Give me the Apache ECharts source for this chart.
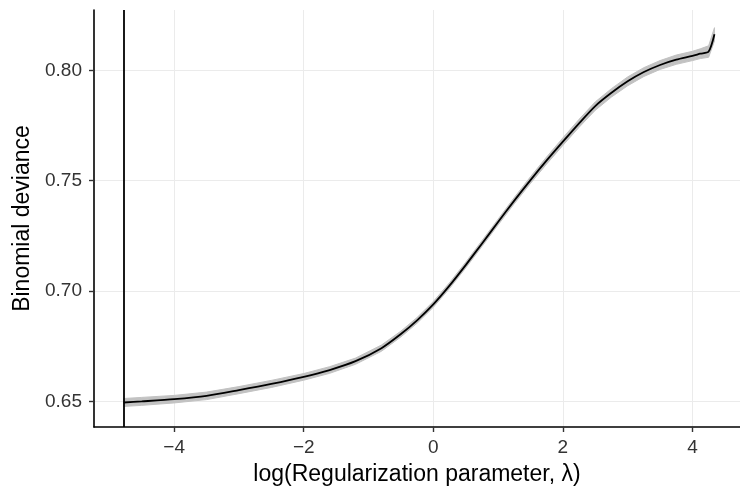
<!DOCTYPE html>
<html>
<head>
<meta charset="utf-8">
<script src="https://cdn.jsdelivr.net/npm/echarts@6/dist/echarts.min.js"></script>
<style>
html,body{margin:0;padding:0;background:#fff;}
#chart{width:740px;height:487px;}
</style>
</head>
<body>
<div id="chart"></div>
<script>
// log(lambda) values along the path
const logLambda = [-4.78, -4.5, -4.0, -3.5, -3.0, -2.5, -2.0, -1.6, -1.2, -0.8, -0.5, -0.25, 0, 0.25, 0.5, 0.75, 1.0, 1.25, 1.5, 1.75, 2.0, 2.25, 2.5, 2.75, 3.0, 3.25, 3.5, 3.75, 4.0, 4.12, 4.25, 4.34];
// mean binomial deviance
const deviance = [0.6496, 0.6501, 0.6511, 0.6526, 0.6552, 0.6580, 0.6612, 0.6643, 0.6683, 0.6742, 0.6806, 0.6868, 0.6940, 0.7025, 0.7118, 0.7215, 0.7313, 0.7410, 0.7503, 0.7592, 0.7677, 0.7760, 0.7838, 0.7898, 0.7950, 0.7992, 0.8024, 0.8048, 0.8065, 0.8075, 0.8085, 0.8163];
// half-width of the grey confidence band
const ciHalf = [0.0018, 0.0018, 0.0017, 0.0017, 0.0016, 0.0016, 0.0015, 0.0015, 0.0014, 0.0014, 0.0013, 0.0013, 0.0013, 0.0013, 0.0013, 0.0013, 0.0013, 0.0014, 0.0015, 0.0016, 0.0017, 0.0018, 0.0019, 0.0019, 0.0020, 0.0020, 0.0020, 0.0021, 0.0021, 0.0022, 0.0026, 0.0030];
// selected lambda (vertical line)
const selectedLogLambda = -4.78;
// axis ticks
const xTickValues = [-4, -2, 0, 2, 4];
const xTickLabels = ['\u22124', '\u22122', '0', '2', '4'];
const yTickValues = [0.65, 0.70, 0.75, 0.80];
const yTickLabels = ['0.65', '0.70', '0.75', '0.80'];
const xTitle = 'log(Regularization parameter, \u03bb)';
const yTitle = 'Binomial deviance';

const lineData = logLambda.map((x, i) => [x, deviance[i]]);
const bandData = logLambda.map((x, i) => [x, deviance[i] - ciHalf[i], deviance[i] + ciHalf[i]]);

const chart = echarts.init(document.getElementById('chart'), null, {renderer: 'canvas'});
const FONT = '"Liberation Sans", Arial, Helvetica, sans-serif';
const tickLabelStyle = {color: '#333333', fontSize: 19, fontFamily: FONT};

chart.setOption({
  animation: false,
  backgroundColor: '#ffffff',
  grid: {left: 94, right: 0, top: 10, bottom: 60, containLabel: false, outerBoundsMode: 'none'},
  xAxis: {
    type: 'value',
    min: -5.237, max: 4.734,
    name: xTitle,
    nameLocation: 'middle',
    nameGap: 36,
    nameTextStyle: {color: '#000', fontSize: 23, fontFamily: FONT},
    axisLine: {show: true, onZero: false, lineStyle: {color: '#000', width: 1.6}},
    axisTick: {show: true, length: 5, customValues: xTickValues, lineStyle: {color: '#333', width: 1.4}},
    axisLabel: {show: true, margin: 11, customValues: xTickValues, ...tickLabelStyle,
      formatter: v => { const i = xTickValues.indexOf(v); return i >= 0 ? xTickLabels[i] : ''; }},
    splitLine: {show: false}
  },
  yAxis: {
    type: 'value',
    min: 0.6385, max: 0.8273,
    name: yTitle,
    nameLocation: 'middle',
    nameGap: 56,
    nameTextStyle: {color: '#000', fontSize: 23, fontFamily: FONT},
    axisLine: {show: true, onZero: false, lineStyle: {color: '#000', width: 1.6}},
    axisTick: {show: true, length: 5, customValues: yTickValues, lineStyle: {color: '#333', width: 1.4}},
    axisLabel: {show: true, margin: 12, customValues: yTickValues, ...tickLabelStyle,
      formatter: v => { const i = yTickValues.findIndex(t => Math.abs(t - v) < 1e-9); return i >= 0 ? yTickLabels[i] : ''; }},
    splitLine: {show: false}
  },
  series: [
    {
      name: 'grid',
      type: 'line',
      data: [],
      z: 1,
      silent: true,
      markLine: {
        silent: true,
        z: 0,
        symbol: ['none', 'none'],
        label: {show: false},
        lineStyle: {color: '#ebebeb', width: 1, type: 'solid'},
        data: xTickValues.map(v => ({xAxis: v})).concat(yTickValues.map(v => ({yAxis: v})))
      }
    },
    {
      name: 'band',
      type: 'custom',
      data: bandData,
      z: 3,
      silent: true,
      encode: {x: 0, y: [1, 2]},
      renderItem: function (params, api) {
        if (params.dataIndex !== 0) return null;
        const lower = [], upper = [];
        for (let i = 0; i < bandData.length; i++) {
          lower.push(api.coord([bandData[i][0], bandData[i][1]]));
          upper.push(api.coord([bandData[i][0], bandData[i][2]]));
        }
        const pts = lower.concat(upper.reverse());
        return {
          type: 'polygon',
          shape: {points: pts, smooth: 0},
          style: {fill: '#c2c2c2', stroke: '#c2c2c2', lineWidth: 1}
        };
      }
    },
    {
      name: 'deviance',
      type: 'line',
      data: lineData,
      symbol: 'none',
      smooth: 0.25,
      lineStyle: {color: '#000', width: 1.8},
      z: 4,
      markLine: {
        silent: true,
        symbol: ['none', 'none'],
        label: {show: false},
        lineStyle: {color: '#000', width: 1.8, type: 'solid'},
        data: [{xAxis: selectedLogLambda}]
      }
    }
  ]
});
</script>
</body>
</html>
